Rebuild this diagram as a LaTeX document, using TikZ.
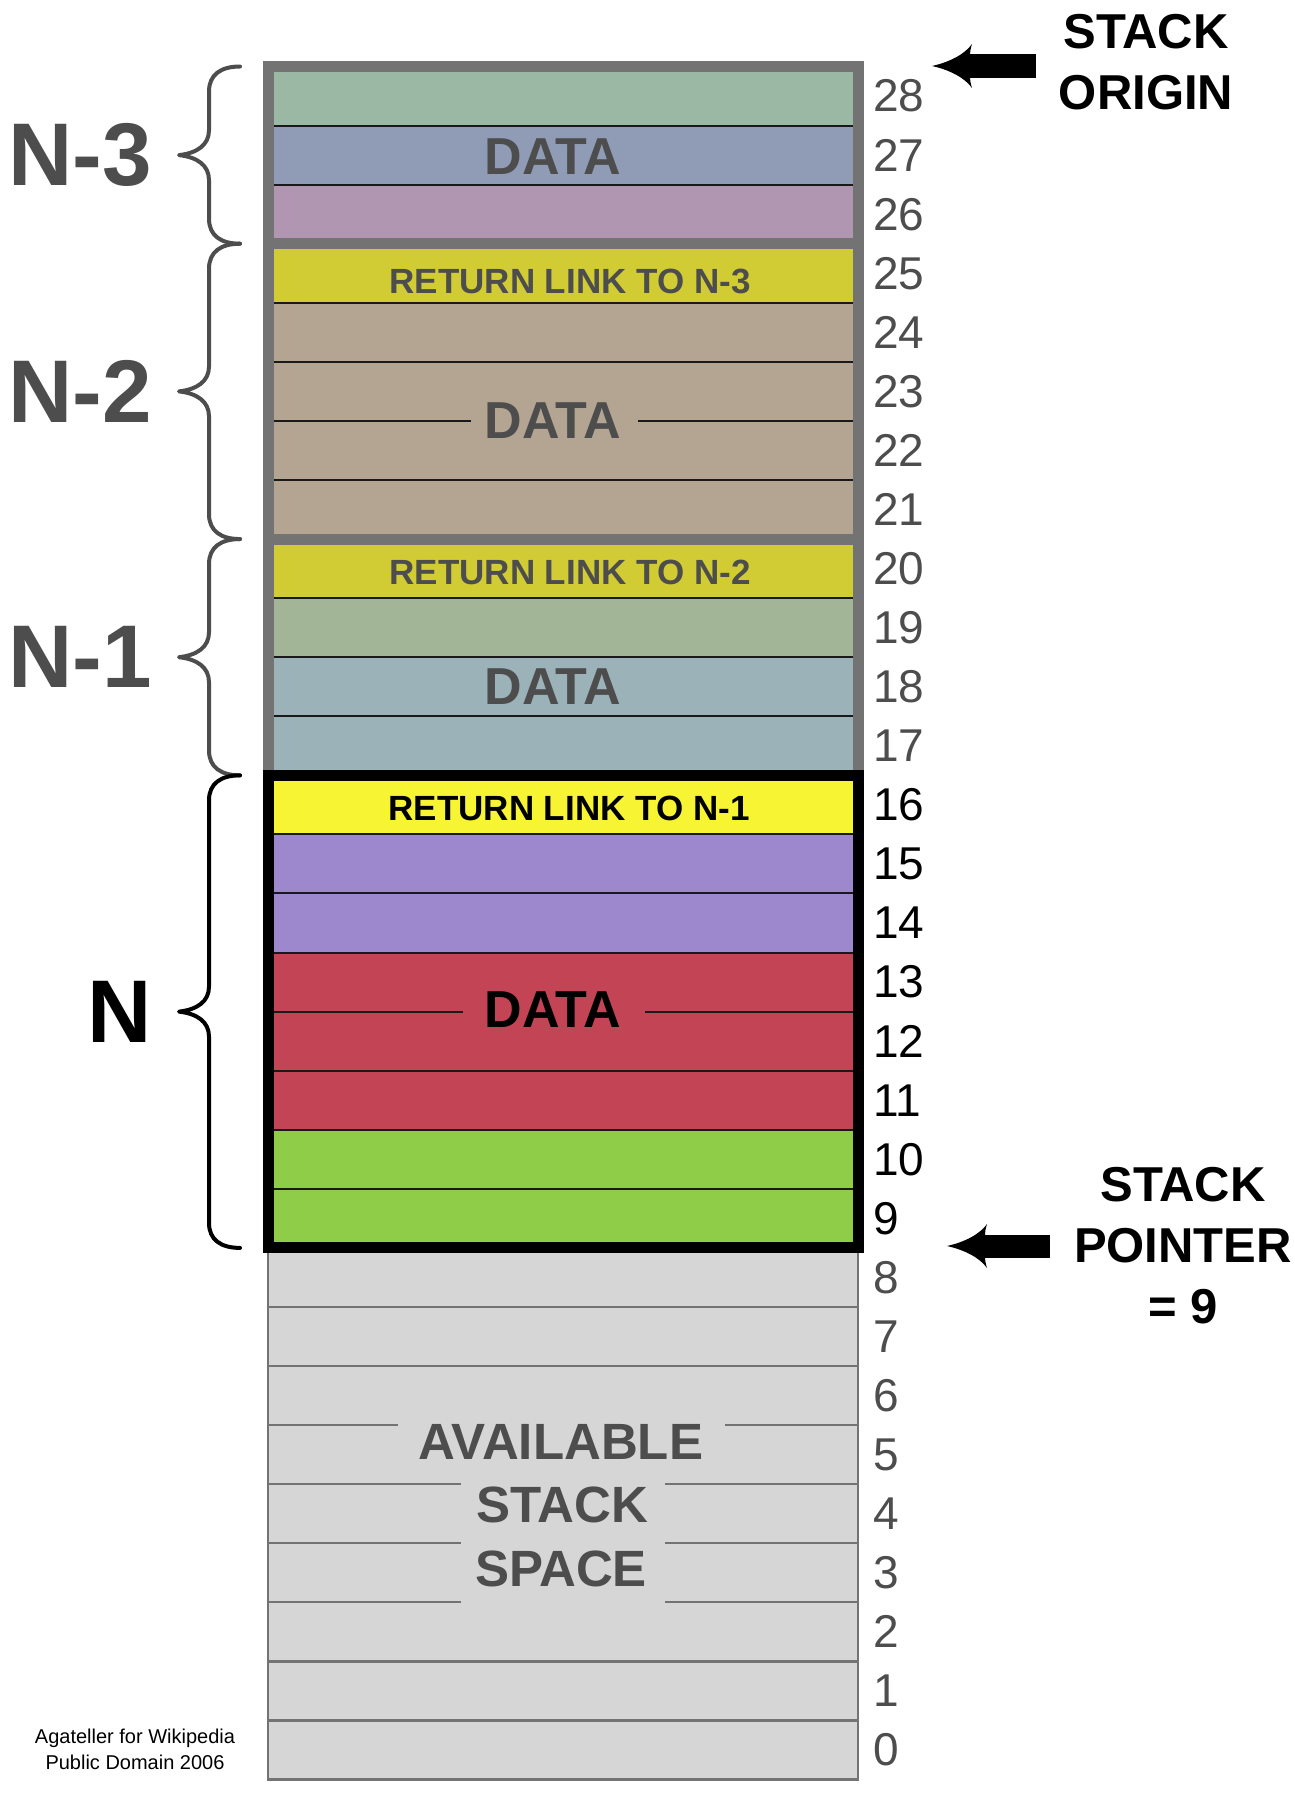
\documentclass[tikz,border=0pt]{standalone}
\usepackage{fontspec}
\setmainfont{Liberation Sans}
\definecolor{fr}{HTML}{737373}
\definecolor{tg}{HTML}{4D4D4D}
\definecolor{c28}{HTML}{9BB8A5}
\definecolor{c27}{HTML}{909CB6}
\definecolor{c26}{HTML}{B096B0}
\definecolor{cRet}{HTML}{D1CC33}
\definecolor{cTan}{HTML}{B4A593}
\definecolor{c19}{HTML}{A2B596}
\definecolor{c18}{HTML}{9BB2B8}
\definecolor{cYel}{HTML}{F7F433}
\definecolor{cPur}{HTML}{9D88CD}
\definecolor{cRed}{HTML}{C24455}
\definecolor{cGrn}{HTML}{8FCC47}
\definecolor{cAv}{HTML}{D6D6D6}
\pgfdeclarearrow{
  name = BigHead,
  parameters = {},
  setup code = {
    \pgfarrowssettipend{0pt}
    \pgfarrowssetlineend{-37pt}
    \pgfarrowssetvisualbackend{-40pt}
    \pgfarrowssetbackend{-40pt}
    \pgfarrowshullpoint{0pt}{0pt}
    \pgfarrowshullpoint{-40pt}{22pt}
    \pgfarrowshullpoint{-40pt}{-22pt}
  },
  drawing code = {
    \pgfpathmoveto{\pgfqpoint{0pt}{0pt}}
    \pgfpathcurveto{\pgfqpoint{-18pt}{4pt}}{\pgfqpoint{-33pt}{12pt}}{\pgfqpoint{-40pt}{22pt}}
    \pgfpathcurveto{\pgfqpoint{-38.5pt}{17pt}}{\pgfqpoint{-38pt}{14pt}}{\pgfqpoint{-38pt}{11.5pt}}
    \pgfpathlineto{\pgfqpoint{-38pt}{-11.5pt}}
    \pgfpathcurveto{\pgfqpoint{-38pt}{-14pt}}{\pgfqpoint{-38.5pt}{-17pt}}{\pgfqpoint{-40pt}{-22pt}}
    \pgfpathcurveto{\pgfqpoint{-33pt}{-12pt}}{\pgfqpoint{-18pt}{-4pt}}{\pgfqpoint{0pt}{0pt}}
    \pgfpathclose
    \pgfusepathqfill
  }
}
\tikzset{
  every node/.style={inner sep=0pt, outer sep=0pt},
  framelbl/.style={font=\fontsize{89}{92}\selectfont\bfseries, anchor=east},
  datalbl/.style={font=\fontsize{52}{54}\selectfont\bfseries},
  retlbl/.style={font=\fontsize{35}{36}\selectfont\bfseries},
  numlbl/.style={font=\fontsize{46}{48}\selectfont, anchor=west},
  sidelbl/.style={font=\fontsize{49}{50}\selectfont\bfseries},
  availlbl/.style={font=\fontsize{51}{52}\selectfont\bfseries, text=tg},
  credit/.style={font=\fontsize{20}{22}\selectfont, anchor=base},
  sepline/.style={line width=2pt, black!90},
  avline/.style={line width=2.2pt, fr},
  frameline/.style={line width=11pt, line join=miter},
  braceline/.style={line width=4pt, line cap=round, line join=round},
  bigarrow/.style={line width=23pt, arrows={-BigHead}},
}
\begin{document}
\begin{tikzpicture}[x=1pt,y=-1pt]
\useasboundingbox (0,0) rectangle (1295,1801);
\fill[white] (0,0) rectangle (1295,1801);
% row fills
\foreach \k/\c in {28/c28,27/c27,26/c26,25/cRet,24/cTan,23/cTan,22/cTan,21/cTan,20/cRet,19/c19,18/c18,17/c18,16/cYel,15/cPur,14/cPur,13/cRed,12/cRed,11/cRed,10/cGrn,9/cGrn}
  \fill[\c] (268,{66.5+59.07*(28-\k)}) rectangle (858,{66.5+59.07*(29-\k)});
\fill[cAv] (268,1247.9) rectangle (858,1779.53);
% separators in frames
\foreach \j in {1,2,4,5,7,9,10,11,13,14,15,17,18,19}
  \draw[sepline] (268,{66.5+59.07*\j}) -- (858,{66.5+59.07*\j});
\draw[sepline] (268,420.92) -- (471,420.92) (638,420.92) -- (858,420.92);
\draw[sepline] (268,1011.62) -- (463,1011.62) (645,1011.62) -- (858,1011.62);
% separators in available space
\foreach \j in {21,22,27,28}
  \draw[avline] (268,{66.5+59.07*\j}) -- (858,{66.5+59.07*\j});
\draw[avline] (268,1425.11) -- (398,1425.11) (725,1425.11) -- (858,1425.11);
\foreach \j in {24,25,26}
  \draw[avline] (268,{66.5+59.07*\j}) -- (461,{66.5+59.07*\j}) (665,{66.5+59.07*\j}) -- (858,{66.5+59.07*\j});
\draw[avline] (268,1247.9) -- (268,1779.53) -- (858,1779.53) -- (858,1247.9);
% frames
\draw[frameline, fr] (268,66.5) rectangle (858,775.34);
\draw[frameline, fr] (268,243.71) -- (858,243.71);
\draw[frameline, fr] (268,539.06) -- (858,539.06);
\draw[frameline, black] (268,775.34) rectangle (858,1247.9);
% braces
\foreach \ya/\yb/\cl in {66.5/243.71/tg, 243.71/539.06/tg, 539.06/775.34/tg, 775.34/1247.9/black} {
  \pgfmathsetmacro\ym{(\ya+\yb)/2}
  \draw[braceline, \cl] (240,\ya) .. controls (221,\ya) and (209,{\ya+8}) .. (209,{\ya+25})
    -- (209,{\ym-25}) .. controls (209,{\ym-10}) and (197,{\ym-2}) .. (179,\ym)
    .. controls (197,{\ym+2}) and (209,{\ym+10}) .. (209,{\ym+25})
    -- (209,{\yb-25}) .. controls (209,{\yb-8}) and (221,\yb) .. (240,\yb);
}
% frame labels
\node[framelbl, text=tg] (lN3) at (152,155.1) {N-3};
\node[framelbl, text=tg] (lN2) at (152,391.4) {N-2};
\node[framelbl, text=tg] (lN1) at (152,657.2) {N-1};
\node[framelbl, text=black] (lN) at (152,1011.6) {N};
% cell texts
\node[datalbl, text=tg] (d3) at (553,157) {DATA};
\node[retlbl, text=tg] (r3) at (570,281) {RETURN LINK TO N-3};
\node[datalbl, text=tg] (d2) at (553,421) {DATA};
\node[retlbl, text=tg] (r2) at (570,572) {RETURN LINK TO N-2};
\node[datalbl, text=tg] (d1) at (553,687) {DATA};
\node[retlbl, text=black] (r1) at (569,808) {RETURN LINK TO N-1};
\node[datalbl, text=black] (d0) at (553,1010) {DATA};
\node[availlbl] (av1) at (561,1442) {AVAILABLE};
\node[availlbl] (av2) at (562,1505) {STACK};
\node[availlbl] (av3) at (561,1569) {SPACE};
% numbers
\foreach \k in {0,...,8,17,18,...,28}
  \node[numlbl, text=tg] (n\k) at (873,{66.5+59.07*(28.5-\k)}) {\k};
\foreach \k in {9,...,16}
  \node[numlbl, text=black] (n\k) at (873,{66.5+59.07*(28.5-\k)}) {\k};
% side labels and arrows
\node[sidelbl] (so1) at (1146,32) {STACK};
\node[sidelbl] (so2) at (1146,93) {ORIGIN};
\node[sidelbl] (sp1) at (1183,1184.5) {STACK};
\node[sidelbl] (sp2) at (1183,1246) {POINTER};
\node[sidelbl] (sp3) at (1183,1307) {= 9};
\coordinate (soTail) at (1036,66);
\coordinate (soTip) at (932,66);
\coordinate (spTail) at (1050,1246);
\coordinate (spTip) at (947,1246);
\draw[bigarrow] (soTail) -- (soTip);
\draw[bigarrow] (spTail) -- (spTip);
% credits
\node[credit] (cr1) at (135,1743) {Agateller for Wikipedia};
\node[credit] (cr2) at (135,1769) {Public Domain 2006};
\end{tikzpicture}
\end{document}
